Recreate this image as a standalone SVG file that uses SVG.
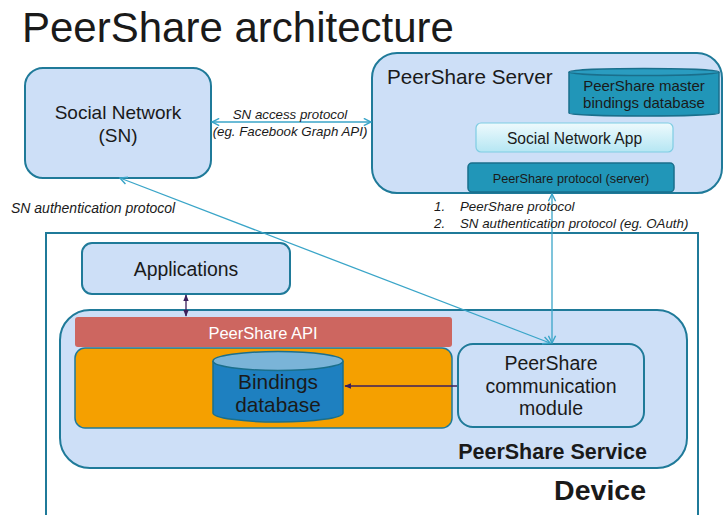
<svg xmlns="http://www.w3.org/2000/svg" width="724" height="515" viewBox="0 0 724 515">
<style>
text{font-family:"Liberation Sans",Arial,sans-serif;fill:#1a1a1a}
.it{font-style:italic;font-size:13.3px}
.box{fill:#cddff7;stroke:#1f7a99;stroke-width:2}
.teal{fill:#2196b8;stroke:#1a6f8c;stroke-width:1.5}
.conn{fill:none;stroke:#3aa5c8;stroke-width:1.3}
.dk{fill:none;stroke:#3b1f5c;stroke-width:1.3}
</style>
<defs>
<marker id="ab" viewBox="0 0 10 10" refX="9" refY="5" markerWidth="9" markerHeight="9" orient="auto-start-reverse" markerUnits="userSpaceOnUse">
<path d="M1,1 L9,5 L1,9" fill="none" stroke="#3aa5c8" stroke-width="1.6"/>
</marker>
<marker id="ad" viewBox="0 0 10 10" refX="9" refY="5" markerWidth="7" markerHeight="7" orient="auto-start-reverse" markerUnits="userSpaceOnUse">
<path d="M0,1 L10,5 L0,9 z" fill="#3b1f5c"/>
</marker>
<linearGradient id="snapp" x1="0" y1="0" x2="0" y2="1">
<stop offset="0" stop-color="#eefafd"/><stop offset="1" stop-color="#b5e6f3"/>
</linearGradient>
</defs>
<text x="22" y="42" font-size="42" fill="#1a1a1a">PeerShare architecture</text>

<g id="device">
<rect x="46" y="233" width="652" height="300" fill="#ffffff" stroke="#1f7a99" stroke-width="2"/>
<text x="646" y="500" font-size="28.5" font-weight="bold" text-anchor="end">Device</text>
</g>

<g id="sn">
<rect class="box" x="25" y="68" width="186" height="110" rx="18"/>
<text x="118" y="119" font-size="19" text-anchor="middle">Social Network</text>
<text x="118" y="142" font-size="19" text-anchor="middle">(SN)</text>
</g>

<g id="server">
<rect class="box" x="372" y="53" width="350" height="140" rx="25"/>
<text x="387" y="84" font-size="20.7">PeerShare Server</text>
</g>

<g id="masterdb">
<path class="teal" d="M569,72 L569,113 A75,3 0 0 0 719,113 L719,72"/>
<ellipse cx="644" cy="72" rx="75" ry="3.5" fill="#2a9cc0" stroke="#1a6f8c" stroke-width="1.5"/>
<text x="644" y="91" font-size="15" text-anchor="middle">PeerShare master</text>
<text x="644" y="108" font-size="15" text-anchor="middle">bindings database</text>
</g>

<g id="snapp">
<rect x="476" y="123" width="197" height="29" rx="5" fill="url(#snapp)" stroke="#7fcde3" stroke-width="1.2"/>
<text x="574.5" y="143.5" font-size="15.6" text-anchor="middle">Social Network App</text>
</g>

<g id="protocol">
<rect class="teal" x="468" y="163" width="206" height="29" rx="4"/>
<text x="571" y="182.5" font-size="12.7" text-anchor="middle">PeerShare protocol (server)</text>
</g>

<g id="applications">
<rect class="box" x="82" y="243" width="208" height="51" rx="10"/>
<text x="186" y="276" font-size="19.4" text-anchor="middle">Applications</text>
</g>

<g id="service">
<rect class="box" x="60" y="310" width="627" height="158" rx="30"/>
<text x="647" y="459" font-size="21.5" font-weight="bold" text-anchor="end">PeerShare Service</text>
</g>

<g id="api">
<rect x="75" y="317" width="377" height="30" rx="3" fill="#cd6660"/>
<text x="263" y="339" font-size="16.5" text-anchor="middle" style="fill:#ffffff">PeerShare API</text>
</g>

<g id="core">
<rect x="75" y="348" width="377" height="80" rx="10" fill="#f5a000" stroke="#1f7a99" stroke-width="1.5"/>
</g>

<g id="bindings">
<path d="M213,361 L213,413 A65,9 0 0 0 343,413 L343,361" fill="#1e80c0" stroke="#1a6f8c" stroke-width="1.5"/>
<ellipse cx="278" cy="361" rx="65" ry="9.5" fill="#7ab4d8" stroke="#1a6f8c" stroke-width="1.5"/>
<text x="278" y="389" font-size="20.8" text-anchor="middle">Bindings</text>
<text x="278" y="412" font-size="20.8" text-anchor="middle">database</text>
</g>

<g id="comm">
<rect class="box" x="458" y="344" width="186" height="83" rx="15"/>
<text x="551" y="370" font-size="19.5" text-anchor="middle">PeerShare</text>
<text x="551" y="393" font-size="19.5" text-anchor="middle">communication</text>
<text x="551" y="415" font-size="19.5" text-anchor="middle">module</text>
</g>

<g id="connectors">
<line class="conn" x1="212" y1="122" x2="371" y2="122" marker-start="url(#ab)" marker-end="url(#ab)"/>
<text class="it" x="290" y="119" text-anchor="middle">SN access protocol</text>
<text class="it" x="290" y="136" text-anchor="middle">(eg. Facebook Graph API)</text>
<line class="conn" x1="552" y1="194" x2="552" y2="343" marker-start="url(#ab)" marker-end="url(#ab)"/>
<text class="it" x="434" y="211">1.</text>
<text class="it" x="460" y="211">PeerShare protocol</text>
<text class="it" x="434" y="228">2.</text>
<text class="it" x="460" y="228">SN authentication protocol (eg. OAuth)</text>
<line class="conn" x1="120" y1="178" x2="550" y2="343" marker-start="url(#ab)" marker-end="url(#ab)"/>
<text class="it" x="11" y="213" style="font-size:14px">SN authentication protocol</text>
<line class="dk" x1="186" y1="295" x2="186" y2="316" marker-start="url(#ad)" marker-end="url(#ad)"/>
<line class="dk" x1="457" y1="386" x2="345" y2="386" marker-end="url(#ad)"/>
</g>
</svg>
